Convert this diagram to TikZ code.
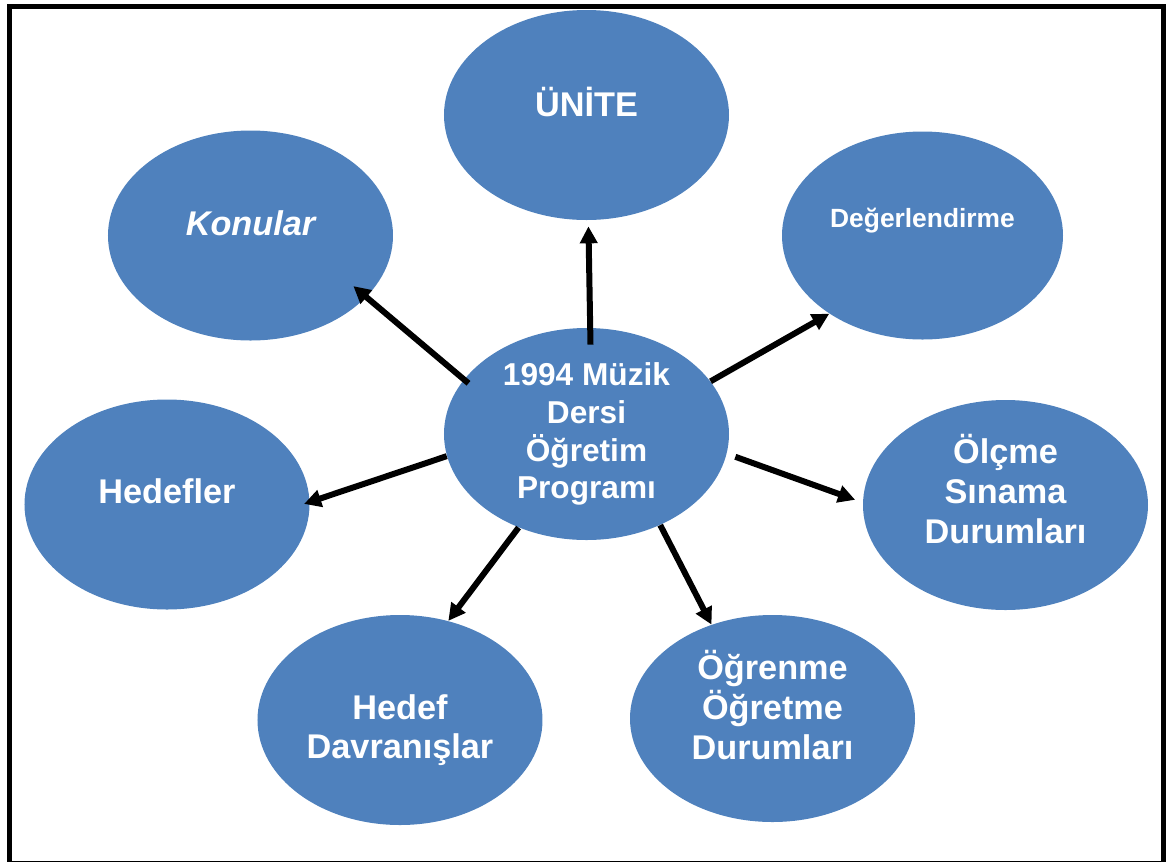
\documentclass[tikz,border=0pt]{standalone}
\usepackage{fontspec}
\setmainfont{Liberation Sans}
\usetikzlibrary{shapes.geometric, arrows.meta}
\definecolor{bubbleblue}{HTML}{4F81BD}
\tikzstyle{bubble} = [ellipse, fill=bubbleblue, text=white, align=center, minimum width=5.7cm, minimum height=4.2cm, inner sep=0pt, font=\fontsize{19.5}{22.7}\selectfont\bfseries]
\tikzstyle{hubnode} = [bubble, minimum height=4.24cm, font=\fontsize{18}{21.5}\selectfont\bfseries]
\tikzstyle{line} = [draw, line width=0.12cm, -{Triangle[length=0.34cm, width=0.34cm]}]
\newcommand{\bubble}[3]{
node (#1) [#2] {#3}}
\newcommand{\spoke}[3]{
  \path [line, #3] (#1) -- (#2);}
\newcommand{\padbelow}[1]{\rule[-#1]{0pt}{0pt}}
\newcommand{\padabove}[1]{\rule{0pt}{#1}}

\begin{document}
\begin{tikzpicture}

		% Page and frame
		\useasboundingbox (-11.73,-8.54) rectangle (11.65,8.68);
		\draw [line width=0.1cm] (-11.54,-8.58) rectangle (11.54,8.56);

		% Draw diagram elements
		\path (0,0) \bubble{hub}{hubnode}{1994 Müzik\\Dersi\\Öğretim\\Programı};
		\path (hub)+(0.0, 6.38) \bubble{unite}{bubble}{ÜNİTE\padbelow{0.52cm}};
		\path (hub)+(-6.72, 3.97) \bubble{konular}{bubble}{\itshape Konular\padbelow{0.48cm}};
		\path (hub)+(6.72, 3.97) \bubble{deger}{bubble, minimum width=5.62cm, minimum height=4.16cm, font=\fontsize{15}{18}\selectfont\bfseries}{Değerlendirme\padbelow{0.72cm}};
		\path (hub)+(-8.39, -1.41) \bubble{hedefler}{bubble}{Hedefler\padbelow{0.54cm}};
		\path (hub)+(8.38, -1.42) \bubble{olcme}{bubble}{Ölçme\\Sınama\\Durumları\padbelow{0.64cm}};
		\path (hub)+(-3.73, -5.72) \bubble{davranis}{bubble}{\padabove{0.9cm}Hedef\\Davranışlar};
		\path (hub)+(3.72, -5.69) \bubble{ogrenme}{bubble, minimum height=4.14cm}{Öğrenme\\Öğretme\\Durumları\padbelow{0.54cm}};

		% Draw arrows between elements
		\spoke{hub.88}{unite.-89}{shorten <=-0.34cm, shorten >=0.12cm}
		\spoke{hub.156}{konular.-28}{shorten <=-0.12cm, shorten >=-0.34cm}
		\spoke{hub.23}{deger.-140}{}
		\spoke{hub.-171}{hedefler.1}{shorten >=-0.12cm}
		\spoke{hub.-8}{olcme.179}{shorten <=0.18cm, shorten >=0.16cm}
		\spoke{hub.-126}{davranis.64}{}
		\spoke{hub.-51}{ogrenme.123}{}

	\end{tikzpicture}
\end{document}
